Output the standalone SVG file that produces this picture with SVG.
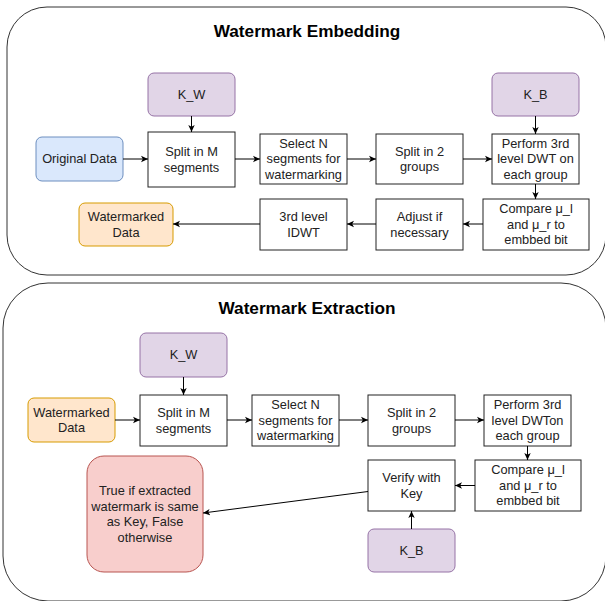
<svg xmlns="http://www.w3.org/2000/svg" width="605" height="601" viewBox="0 0 605 601">
<defs>
<marker id="arr" viewBox="0 0 8 8" markerWidth="8" markerHeight="8" refX="7" refY="4" orient="auto" markerUnits="userSpaceOnUse">
<path d="M0,0.8 L7,4 L0,7.2 L1.8,4 z" fill="#000"/>
</marker>
<style>
.cont{fill:#fff;stroke:#333;stroke-width:1}
.box{fill:#fff;stroke:#222;stroke-width:1}
.key{fill:#e1d5e7;stroke:#9673a6;stroke-width:1}
.blue{fill:#dae8fc;stroke:#6c8ebf;stroke-width:1}
.org{fill:#ffe6cc;stroke:#d79b00;stroke-width:1}
.red{fill:#f8cecc;stroke:#b85450;stroke-width:1}
text{font-family:"Liberation Sans",Arial,sans-serif;font-size:12.8px;fill:#222;text-anchor:middle}
.title{font-size:17.2px;font-weight:bold;fill:#000}
.edge{fill:none;stroke:#000;stroke-width:1;marker-end:url(#arr)}
</style>
</defs>
<rect width="605" height="601" fill="#fff"/>

<g id="section-embedding">
<rect class="cont" x="7" y="7" width="599" height="268" rx="40"/>
<text class="title" x="307" y="37">Watermark Embedding</text>
</g>
<g id="section-extraction">
<rect class="cont" x="3" y="283" width="603" height="318" rx="45"/>
<text class="title" x="307" y="313.5">Watermark Extraction</text>
</g>

<!-- Embedding nodes -->
<g id="e-kw"><rect class="key" x="148" y="73" width="87" height="43" rx="6"/><text x="191.5" y="98.9">K_W</text></g>
<g id="e-orig"><rect class="blue" x="36" y="137" width="87" height="44" rx="6"/><text x="79.5" y="163.4">Original Data</text></g>
<g id="e-splitm"><rect class="box" x="148" y="132" width="87" height="55"/><text x="191.5" y="156.2">Split in M</text><text x="191.5" y="171.7">segments</text></g>
<g id="e-selectn"><rect class="box" x="260" y="134" width="87" height="50"/><text x="303.5" y="147.9">Select N</text><text x="303.5" y="163.4">segments for</text><text x="303.5" y="178.9">watermarking</text></g>
<g id="e-split2"><rect class="box" x="376" y="134" width="87" height="50"/><text x="419.5" y="155.7">Split in 2</text><text x="419.5" y="171.2">groups</text></g>
<g id="e-kb"><rect class="key" x="492" y="73" width="87" height="43" rx="6"/><text x="535.5" y="98.9">K_B</text></g>
<g id="e-dwt"><rect class="box" x="492" y="134" width="87" height="50"/><text x="535.5" y="147.9">Perform 3rd</text><text x="535.5" y="163.4">level DWT on</text><text x="535.5" y="178.9">each group</text></g>
<g id="e-compare"><rect class="box" x="483" y="199" width="106" height="51"/><text x="536" y="213.4">Compare μ_l</text><text x="536" y="228.9">and μ_r to</text><text x="536" y="244.4">embbed bit</text></g>
<g id="e-adjust"><rect class="box" x="376" y="199" width="87" height="51"/><text x="419.5" y="221.2">Adjust if</text><text x="419.5" y="236.7">necessary</text></g>
<g id="e-idwt"><rect class="box" x="260" y="199" width="87" height="51"/><text x="303.5" y="221.2">3rd level</text><text x="303.5" y="236.7">IDWT</text></g>
<g id="e-wm"><rect class="org" x="79" y="203" width="94" height="43" rx="6"/><text x="126" y="221.2">Watermarked</text><text x="126" y="236.7">Data</text></g>

<!-- Extraction nodes -->
<g id="x-kw"><rect class="key" x="140" y="333" width="87" height="44" rx="6"/><text x="183.5" y="359.4">K_W</text></g>
<g id="x-wm"><rect class="org" x="28" y="398" width="87" height="44" rx="6"/><text x="71.5" y="416.6">Watermarked</text><text x="71.5" y="432.1">Data</text></g>
<g id="x-splitm"><rect class="box" x="140" y="395" width="87" height="51"/><text x="183.5" y="417.2">Split in M</text><text x="183.5" y="432.7">segments</text></g>
<g id="x-selectn"><rect class="box" x="252" y="395" width="87" height="51"/><text x="295.5" y="409.4">Select N</text><text x="295.5" y="424.9">segments for</text><text x="295.5" y="440.4">watermarking</text></g>
<g id="x-split2"><rect class="box" x="368" y="395" width="87" height="51"/><text x="411.5" y="417.2">Split in 2</text><text x="411.5" y="432.7">groups</text></g>
<g id="x-dwt"><rect class="box" x="484" y="395" width="87" height="51"/><text x="527.5" y="409.4">Perform 3rd</text><text x="527.5" y="424.9">level DWTon</text><text x="527.5" y="440.4">each group</text></g>
<g id="x-compare"><rect class="box" x="475" y="460" width="106" height="51"/><text x="528" y="474.4">Compare μ_l</text><text x="528" y="489.9">and μ_r to</text><text x="528" y="505.4">embbed bit</text></g>
<g id="x-verify"><rect class="box" x="368" y="460" width="87" height="51"/><text x="411.5" y="482.1">Verify with</text><text x="411.5" y="497.6">Key</text></g>
<g id="x-kb"><rect class="key" x="368" y="529" width="87" height="43" rx="6"/><text x="411.5" y="554.9">K_B</text></g>
<g id="x-result"><rect class="red" x="87" y="456" width="116" height="116" rx="17"/><text x="145" y="495.2">True if extracted</text><text x="145" y="510.7">watermark is same</text><text x="145" y="526.2">as Key, False</text><text x="145" y="541.7">otherwise</text></g>

<g id="connectors">
<path class="edge" d="M191.5,116 V132"/>
<path class="edge" d="M123,159 H148"/>
<path class="edge" d="M235,159 H260"/>
<path class="edge" d="M347,159 H376"/>
<path class="edge" d="M463,159 H492"/>
<path class="edge" d="M535.5,116 V134"/>
<path class="edge" d="M535.5,184 V199"/>
<path class="edge" d="M483,224 H463"/>
<path class="edge" d="M376,224 H347"/>
<path class="edge" d="M260,224 H173"/>

<path class="edge" d="M183.5,377 V395"/>
<path class="edge" d="M115,420 H140"/>
<path class="edge" d="M227,420 H252"/>
<path class="edge" d="M339,420 H368"/>
<path class="edge" d="M455,420 H484"/>
<path class="edge" d="M527.5,446 V460"/>
<path class="edge" d="M475,485.5 H455"/>
<path class="edge" d="M411.5,529 V511"/>
<path class="edge" d="M368,491.5 L203,513"/>
</g>
</svg>
